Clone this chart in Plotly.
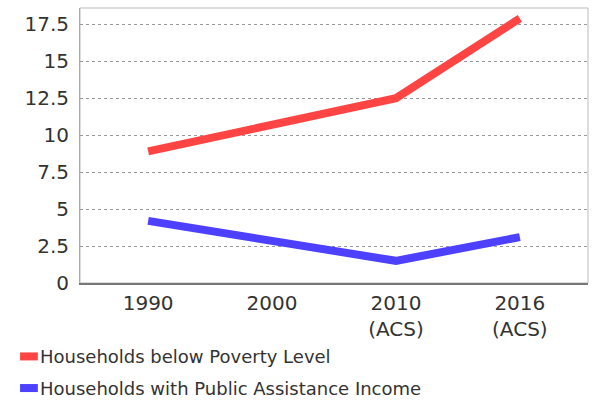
import plotly.graph_objects as go

categories = ["1990", "2000", "2010<br>(ACS)", "2016<br>(ACS)"]
poverty = [8.9, 10.7, 12.5, 17.9]
public_assist = [4.2, 2.8, 1.5, 3.1]
series_names = ["Households below Poverty Level", "Households with Public Assistance Income"]
y_ticks = [0, 2.5, 5, 7.5, 10, 12.5, 15, 17.5]
y_tick_text = ["0", "2.5", "5", "7.5", "10", "12.5", "15", "17.5"]

red = "#ff4444"
blue = "#4d40ff"
font_fam = "DejaVu Sans"
colors = [red, blue]

fig = go.Figure()
for vals, name, col in zip([poverty, public_assist], series_names, colors):
    fig.add_trace(go.Scatter(x=list(range(len(categories))), y=vals, mode="lines",
                             line=dict(color=col, width=8), name=name, showlegend=False))

# custom legend (swatch + label) below the plot, in paper coordinates
legend_y = [-0.267, -0.382]
shapes = [dict(type="rect", xref="paper", yref="paper", x0=0, x1=1, y0=0, y1=1,
               line=dict(color="#bbbbbb", width=1), layer="below")]
annotations = []
for name, col, ly in zip(series_names, colors, legend_y):
    shapes.append(dict(type="line", xref="paper", yref="paper", x0=-0.118, x1=-0.083,
                       y0=ly, y1=ly, line=dict(color=col, width=8)))
    annotations.append(dict(text=name, xref="paper", yref="paper", x=-0.083, y=ly,
                            xanchor="left", yanchor="middle", showarrow=False,
                            font=dict(size=18, color="#333333")))

fig.update_layout(
    width=592, height=402,
    margin=dict(l=80, r=4, t=8, b=119, autoexpand=False),
    paper_bgcolor="white", plot_bgcolor="white",
    font=dict(family=font_fam, size=20, color="#333333"),
    xaxis=dict(tickmode="array", tickvals=list(range(len(categories))), ticktext=categories,
               range=[-0.55, 3.55], showgrid=False, zeroline=False,
               showline=True, linecolor="#777777", linewidth=2,
               ticks="outside", ticklen=1, tickcolor="white"),
    yaxis=dict(tickmode="array", tickvals=y_ticks, ticktext=y_tick_text, range=[0, 18.6],
               showgrid=True, gridcolor="#999999", griddash="dot", gridwidth=1,
               zeroline=False, showline=True, linecolor="#aaaaaa", linewidth=1,
               ticks="outside", ticklen=6, tickcolor="white"),
    showlegend=False,
    shapes=shapes,
    annotations=annotations,
)

fig.write_html("out.html")
